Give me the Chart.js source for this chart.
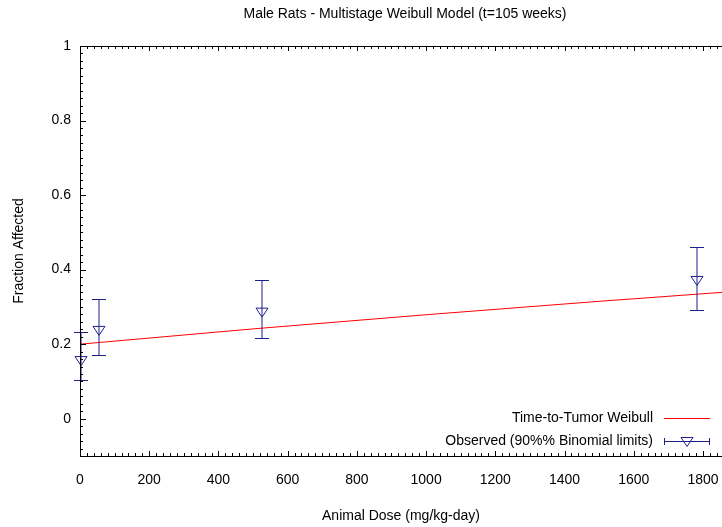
<!DOCTYPE html>
<html>
<head>
<meta charset="utf-8">
<script src="https://cdn.jsdelivr.net/npm/chart.js@4.4.1/dist/chart.umd.min.js"></script>
<style>
  html, body { margin: 0; padding: 0; background: #fff; }
</style>
</head>
<body>
<canvas id="chart" width="722" height="527"></canvas>
<script>
// Fitted model curve (dose vs. fraction affected)
const modelDose = [0, 500, 1000, 1500, 1855];
const modelFrac = [0.2, 0.241, 0.279, 0.315, 0.339];

// Observed incidence with 90% binomial limits
const obsDose = [0, 53, 524, 1779];
const obsFrac = [0.156, 0.237, 0.286, 0.371];
const obsLower = [0.103, 0.172, 0.216, 0.293];
const obsUpper = [0.234, 0.320, 0.373, 0.461];

const xTicks = [0, 200, 400, 600, 800, 1000, 1200, 1400, 1600, 1800];
const yTicks = [0, 0.2, 0.4, 0.6, 0.8, 1];

const FONT = '"Liberation Sans", Arial, sans-serif';
const BLUE = '#1f1f8c';
const RED = '#ff0000';

// open downward triangle marker
function triangleDown(ctx, x, y) {
    ctx.beginPath();
    ctx.moveTo(x - 6, y - 4);
    ctx.lineTo(x + 6, y - 4);
    ctx.lineTo(x, y + 5);
    ctx.closePath();
    ctx.stroke();
}

// error bars + markers for the observed series
const errorBars = {
    id: 'errorBars',
    afterDatasetsDraw(chart) {
        const { ctx, scales: { x, y } } = chart;
        ctx.save();
        ctx.strokeStyle = BLUE;
        ctx.lineWidth = 1;
        obsDose.forEach((d, i) => {
            const px = Math.round(x.getPixelForValue(d)) + 1;
            const top = Math.round(y.getPixelForValue(obsUpper[i])) + 0.5;
            const bot = Math.round(y.getPixelForValue(obsLower[i])) + 0.5;
            ctx.beginPath();
            ctx.moveTo(px, top); ctx.lineTo(px, bot);
            ctx.moveTo(px - 7, top); ctx.lineTo(px + 7, top);
            ctx.moveTo(px - 7, bot); ctx.lineTo(px + 7, bot);
            ctx.stroke();
            triangleDown(ctx, px, y.getPixelForValue(obsFrac[i]));
        });
        ctx.restore();
    }
};

// frame, inward tick marks, title and legend
const frame = {
    id: 'frame',
    afterDraw(chart) {
        const { ctx, chartArea: a, scales: { x, y } } = chart;
        ctx.save();
        ctx.strokeStyle = '#000';
        ctx.lineWidth = 1;
        ctx.beginPath();
        ctx.moveTo(a.left + 0.5, a.top + 0.5);
        ctx.lineTo(a.right, a.top + 0.5);
        ctx.moveTo(a.left + 0.5, a.top);
        ctx.lineTo(a.left + 0.5, a.bottom + 0.5);
        ctx.lineTo(a.right, a.bottom + 0.5);

        // x ticks: bottom and top, 10 subdivisions per major step
        for (let v = 0; v <= x.max; v += 20) {
            const px = Math.round(x.getPixelForValue(v)) + 0.5;
            const len = xTicks.includes(v) ? 5 : 3;
            ctx.moveTo(px, a.bottom); ctx.lineTo(px, a.bottom - len);
            ctx.moveTo(px, a.top); ctx.lineTo(px, a.top + len);
        }
        // y ticks: left side only
        for (let k = -5; k <= 50; k++) {
            const v = k / 50;
            const py = Math.round(y.getPixelForValue(v)) + 0.5;
            const len = k % 10 === 0 ? 6 : 3;
            ctx.moveTo(a.left, py); ctx.lineTo(a.left + len, py);
        }
        ctx.stroke();

        ctx.fillStyle = '#000';
        ctx.font = '14px ' + FONT;
        ctx.textAlign = 'center';
        ctx.textBaseline = 'middle';
        ctx.fillText('Male Rats - Multistage Weibull Model (t=105 weeks)', (a.left + a.right) / 2 + 4, 14);

        // legend, bottom right inside the plot
        const tx = 653, sx0 = 664, sx1 = 710;
        const r1 = 418, r2 = 441;
        ctx.textAlign = 'right';
        ctx.fillText('Time-to-Tumor Weibull', tx, r1);
        ctx.fillText('Observed (90%% Binomial limits)', tx, r2);
        ctx.strokeStyle = RED;
        ctx.beginPath();
        ctx.moveTo(sx0, r1 + 0.5); ctx.lineTo(sx1, r1 + 0.5);
        ctx.stroke();
        ctx.strokeStyle = BLUE;
        ctx.beginPath();
        ctx.moveTo(sx0, r2 + 0.5); ctx.lineTo(sx1, r2 + 0.5);
        ctx.moveTo(sx0 + 0.5, r2 - 3); ctx.lineTo(sx0 + 0.5, r2 + 4);
        ctx.moveTo(sx1 - 0.5, r2 - 3); ctx.lineTo(sx1 - 0.5, r2 + 4);
        ctx.stroke();
        triangleDown(ctx, (sx0 + sx1) / 2, r2 + 0.5);
        ctx.restore();
    }
};

new Chart(document.getElementById('chart'), {
    type: 'scatter',
    data: {
        datasets: [{
            label: 'Time-to-Tumor Weibull',
            type: 'line',
            data: modelDose.map((d, i) => ({ x: d, y: modelFrac[i] })),
            borderColor: RED,
            borderWidth: 1,
            pointRadius: 0,
            fill: false
        }]
    },
    options: {
        responsive: false,
        animation: false,
        devicePixelRatio: 1,
        layout: { padding: { top: 46, right: 0, bottom: 0, left: 0 } },
        plugins: {
            legend: { display: false },
            tooltip: { enabled: false }
        },
        scales: {
            x: {
                type: 'linear',
                min: 0,
                max: 1855,
                grid: { display: false },
                border: { display: false },
                afterBuildTicks: s => { s.ticks = xTicks.map(v => ({ value: v })); },
                afterFit: s => { s.height = 71; s.paddingLeft = 0; s.paddingRight = 0; },
                ticks: {
                    padding: 8,
                    maxRotation: 0,
                    color: '#000',
                    font: { family: FONT, size: 14 },
                    callback: v => String(v)
                },
                title: {
                    display: true,
                    text: 'Animal Dose (mg/kg-day)',
                    color: '#000',
                    font: { family: FONT, size: 14 },
                    padding: { top: 0, bottom: 2 }
                }
            },
            y: {
                type: 'linear',
                min: -0.1,
                max: 1,
                grid: { display: false },
                border: { display: false },
                afterBuildTicks: s => { s.ticks = yTicks.map(v => ({ value: v })); },
                afterFit: s => { s.width = 80; },
                ticks: {
                    padding: 1,
                    color: '#000',
                    font: { family: FONT, size: 14 },
                    callback: v => String(v)
                },
                title: {
                    display: true,
                    text: 'Fraction Affected',
                    color: '#000',
                    font: { family: FONT, size: 14 },
                    padding: { top: 11, bottom: 0 }
                }
            }
        }
    },
    plugins: [errorBars, frame]
});
</script>
</body>
</html>
